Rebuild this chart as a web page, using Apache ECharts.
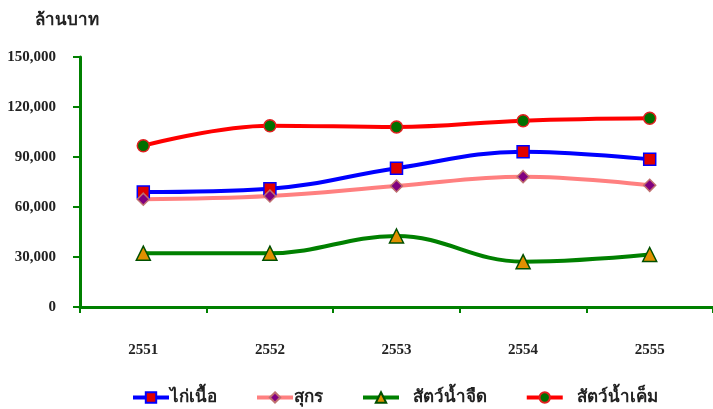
<!DOCTYPE html>
<html><head><meta charset="utf-8">
<script src="https://cdn.jsdelivr.net/npm/echarts@6/dist/echarts.min.js"></script>
<style>html,body{margin:0;padding:0;background:#fff}#c{width:713px;height:409px}</style>
</head><body><div id="c"></div>
<script>
const categories = ['2551','2552','2553','2554','2555'];
const chicken = [69000, 71000, 83300, 93200, 88600];
const pork = [64700, 66600, 72600, 78200, 73000];
const freshwater = [32300, 32300, 42600, 27200, 31500];
const marine = [96800, 108800, 108000, 111800, 113200];
const seriesNames = ['ไก่เนื้อ', 'สุกร', 'สัตว์น้ำจืด', 'สัตว์น้ำเค็ม'];
const yTicks = {min: 0, max: 150000, interval: 30000};

const fontFam = '"Liberation Serif", "Times New Roman", serif';
const chart = echarts.init(document.getElementById('c'));
function mk(name, data, lineColor, symbol, size, fill, border) {
  return {
    name, type: 'line', data, smooth: 0.4, symbol, symbolSize: size,
    lineStyle: {color: lineColor, width: 4},
    itemStyle: {color: fill, borderColor: border, borderWidth: 1.5},
    emphasis: {disabled: true}
  };
}
chart.setOption({
  animation: false,
  title: {text: 'ล้านบาท', left: 30, top: 7,
    textStyle: {fontFamily: fontFam, fontSize: 17, fontWeight: 'bold', color: '#222'}},
  grid: {left: 80, right: -2, top: 57, bottom: 102},
  legend: {
    left: 126, top: 384, itemWidth: 36, itemHeight: 13, itemGap: 38,
    lineStyle: {width: 4},
    formatter: n => (n === seriesNames[2] || n === seriesNames[3]) ? '   ' + n : n,
    textStyle: {fontFamily: fontFam, fontSize: 17, fontWeight: 'bold', color: '#222', padding: [0,0,0,-4]},
    data: seriesNames
  },
  xAxis: {
    type: 'category', data: categories, boundaryGap: true,
    axisLine: {lineStyle: {color: '#008000', width: 3}},
    axisTick: {show: true, length: 6, lineStyle: {color: '#008000', width: 2}},
    axisLabel: {margin: 36, fontFamily: fontFam, fontSize: 15, fontWeight: 'bold', color: '#222'}
  },
  yAxis: {
    type: 'value', min: yTicks.min, max: yTicks.max, interval: yTicks.interval,
    axisLine: {show: true, lineStyle: {color: '#008000', width: 3}},
    axisTick: {show: true, length: 7, lineStyle: {color: '#008000', width: 2}},
    splitLine: {show: false},
    axisLabel: {margin: 24, fontFamily: fontFam, fontSize: 15, fontWeight: 'bold', color: '#222',
      formatter: v => v.toLocaleString('en-US')}
  },
  series: [
    mk(seriesNames[0], chicken, '#0000FF', 'rect', 12, '#E00000', '#0000FF'),
    mk(seriesNames[1], pork, '#FF8080', 'diamond', 12, '#800080', '#C07070'),
    mk(seriesNames[2], freshwater, '#008000', 'triangle', 14, '#E09000', '#005000'),
    mk(seriesNames[3], marine, '#FF0000', 'circle', 12, '#007000', '#E02020')
  ]
});
</script></body></html>
